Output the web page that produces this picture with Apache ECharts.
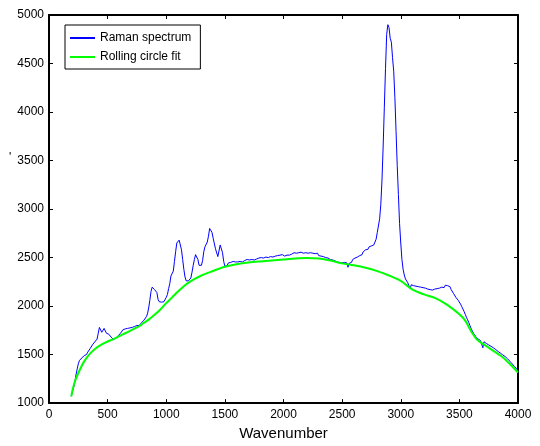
<!DOCTYPE html>
<html>
<head>
<meta charset="utf-8">
<script src="https://cdn.jsdelivr.net/npm/echarts@6/dist/echarts.min.js"></script>
<style>html,body{margin:0;padding:0;background:#fff}#c{width:540px;height:446px}</style>
</head>
<body>
<div id="c"></div>
<script>
var xTicks = [0, 500, 1000, 1500, 2000, 2500, 3000, 3500, 4000];
var yTicks = [1000, 1500, 2000, 2500, 3000, 3500, 4000, 4500, 5000];
var seriesNames = ['Raman spectrum', 'Rolling circle fit'];

var ramanSpectrum = [
[190,1070],[200,1120],[210,1160],[220,1215],[230,1290],[240,1350],[250,1405],[260,1440],[270,1450],[280,1465],
[290,1470],[300,1490],[310,1505],[320,1500],[330,1525],[340,1545],[350,1560],[360,1580],[370,1600],[380,1610],
[390,1630],[400,1630],[410,1660],[420,1720],[430,1780],[440,1760],[450,1730],[460,1745],[470,1770],[480,1765],
[490,1720],[500,1700],[510,1710],[520,1690],[530,1680],[540,1670],[550,1655],[560,1650],[570,1670],[580,1680],
[590,1695],[600,1710],[610,1720],[620,1740],[630,1755],[640,1770],[650,1765],[660,1775],[670,1770],[680,1760],
[690,1775],[700,1765],[710,1780],[720,1770],[730,1790],[740,1785],[750,1800],[760,1805],[770,1800],[780,1815],
[790,1830],[800,1845],[810,1855],[820,1870],[830,1890],[840,1920],[850,1980],[860,2060],[870,2150],[880,2195],
[890,2190],[900,2170],[910,2180],[920,2140],[930,2070],[940,2045],[950,2030],[960,2040],[970,2050],[980,2045],
[990,2060],[1000,2090],[1010,2120],[1020,2180],[1030,2230],[1040,2310],[1050,2320],[1060,2360],[1070,2460],[1080,2560],
[1090,2650],[1100,2640],[1110,2680],[1120,2660],[1130,2580],[1140,2480],[1150,2380],[1160,2300],[1170,2260],[1180,2250],
[1190,2260],[1200,2250],[1210,2290],[1220,2350],[1230,2420],[1240,2480],[1250,2530],[1260,2540],[1270,2480],[1280,2420],
[1290,2410],[1300,2420],[1310,2470],[1320,2560],[1330,2610],[1340,2630],[1350,2660],[1360,2720],[1370,2800],[1380,2810],
[1390,2760],[1400,2700],[1410,2680],[1420,2590],[1430,2570],[1440,2510],[1450,2530],[1460,2630],[1470,2610],[1480,2550],
[1490,2460],[1500,2410],[1510,2390],[1520,2420],[1530,2445],[1540,2430],[1550,2450],[1560,2440],[1570,2460],[1580,2445],
[1590,2455],[1600,2435],[1610,2455],[1620,2445],[1630,2460],[1640,2440],[1650,2455],[1660,2450],[1670,2470],[1680,2460],
[1690,2480],[1700,2470],[1710,2475],[1720,2460],[1730,2480],[1740,2490],[1750,2475],[1760,2495],[1770,2485],[1780,2480],
[1790,2495],[1800,2485],[1810,2500],[1820,2490],[1830,2495],[1840,2485],[1850,2505],[1860,2495],[1870,2500],[1880,2490],
[1890,2510],[1900,2500],[1910,2505],[1920,2495],[1930,2515],[1940,2505],[1950,2520],[1960,2510],[1970,2525],[1980,2510],
[1990,2530],[2000,2520],[2010,2515],[2020,2535],[2030,2525],[2040,2540],[2050,2525],[2060,2545],[2070,2535],[2080,2530],
[2090,2550],[2100,2540],[2110,2545],[2120,2530],[2130,2550],[2140,2540],[2150,2555],[2160,2535],[2170,2545],[2180,2530],
[2190,2550],[2200,2540],[2210,2545],[2220,2530],[2230,2550],[2240,2535],[2250,2545],[2260,2525],[2270,2540],[2280,2530],
[2290,2545],[2300,2520],[2310,2535],[2320,2515],[2330,2525],[2340,2510],[2350,2520],[2360,2500],[2370,2515],[2380,2495],
[2390,2505],[2400,2480],[2410,2495],[2420,2475],[2430,2485],[2440,2465],[2450,2470],[2460,2455],[2470,2460],[2480,2450],
[2490,2455],[2500,2445],[2510,2440],[2520,2450],[2530,2435],[2540,2445],[2550,2400],[2560,2440],[2570,2460],[2580,2450],
[2590,2480],[2600,2470],[2610,2495],[2620,2485],[2630,2505],[2640,2495],[2650,2520],[2660,2535],[2670,2530],[2680,2560],
[2690,2550],[2700,2580],[2710,2595],[2720,2585],[2730,2610],[2740,2600],[2750,2620],[2760,2615],[2770,2630],[2780,2640],
[2790,2690],[2800,2760],[2810,2780],[2820,2900],[2830,3050],[2840,3300],[2850,3650],[2860,4050],[2870,4450],[2880,4800],
[2890,4900],[2900,4870],[2910,4760],[2920,4720],[2930,4560],[2940,4420],[2950,4150],[2960,3800],[2970,3450],[2980,3150],
[2990,2850],[3000,2650],[3010,2480],[3020,2380],[3030,2320],[3040,2280],[3050,2260],[3060,2240],[3070,2230],[3080,2180],
[3090,2220],[3100,2200],[3110,2210],[3120,2190],[3130,2205],[3140,2185],[3150,2200],[3160,2180],[3170,2195],[3180,2175],
[3190,2190],[3200,2170],[3210,2185],[3220,2165],[3230,2175],[3240,2160],[3250,2170],[3260,2155],[3270,2165],[3280,2160],
[3290,2175],[3300,2165],[3310,2180],[3320,2175],[3330,2185],[3340,2180],[3350,2195],[3360,2200],[3370,2190],[3380,2215],
[3390,2195],[3400,2210],[3410,2190],[3420,2200],[3430,2170],[3440,2160],[3450,2130],[3460,2120],[3470,2090],[3480,2075],
[3490,2060],[3500,2040],[3510,2020],[3520,1995],[3530,1970],[3540,1945],[3550,1915],[3560,1885],[3570,1860],[3580,1830],
[3590,1800],[3600,1770],[3610,1745],[3620,1720],[3630,1700],[3640,1685],[3650,1675],[3660,1660],[3670,1655],[3680,1645],
[3690,1640],[3700,1570],[3710,1632],[3720,1625],[3730,1615],[3740,1610],[3750,1600],[3760,1592],[3770,1585],[3780,1578],
[3790,1570],[3800,1560],[3810,1552],[3820,1540],[3830,1532],[3840,1525],[3850,1515],[3860,1505],[3870,1497],[3880,1485],
[3890,1480],[3900,1468],[3910,1458],[3920,1445],[3930,1432],[3940,1420],[3950,1405],[3960,1393],[3970,1378],[3980,1362],
[3990,1350],[4000,1335]
];

var circleFit = [
[190,1070],[200,1130],[220,1220],[250,1310],[300,1430],[350,1510],[400,1565],[450,1605],[500,1635],[550,1660],
[600,1690],[650,1720],[700,1750],[750,1780],[780,1800],[800,1820],[850,1860],[900,1910],[950,1965],[1000,2030],
[1050,2090],[1100,2150],[1150,2205],[1200,2250],[1250,2285],[1300,2315],[1350,2340],[1400,2362],[1450,2385],[1500,2405],
[1600,2430],[1700,2448],[1800,2460],[1900,2470],[2000,2480],[2100,2490],[2200,2495],[2300,2490],[2400,2470],[2500,2440],
[2600,2420],[2700,2395],[2800,2360],[2900,2315],[3000,2260],[3100,2170],[3200,2120],[3300,2080],[3400,2010],[3500,1915],
[3550,1850],[3600,1740],[3650,1655],[3700,1610],[3750,1572],[3800,1530],[3850,1490],[3900,1440],[3950,1380],[4000,1315]
];

var font = "'Liberation Sans', Arial, Helvetica, sans-serif";
var chart = echarts.init(document.getElementById('c'), null, {renderer: 'canvas'});
var axisLine = {show: true, onZero: false, lineStyle: {color: '#000', width: 2}};
var tick = {show: true, inside: true, length: 4, lineStyle: {color: '#000', width: 1}};
var plain = function (v) { return String(v); };
chart.setOption({
  animation: false,
  backgroundColor: '#fff',
  textStyle: {fontFamily: font},
  grid: {left: 49, right: 22, top: 15, bottom: 34, containLabel: false},
  legend: {
    show: true, orient: 'vertical', left: 65, top: 25,
    data: [
      {name: seriesNames[0], icon: 'rect', itemStyle: {color: '#0000ff'}},
      {name: seriesNames[1], icon: 'rect', itemStyle: {color: '#00ff00'}}
    ],
    borderColor: '#000', borderWidth: 1, borderRadius: 0,
    padding: [6, 9, 5, 5], itemWidth: 25, itemHeight: 2, itemGap: 5, itemTextGap: 5,
    textStyle: {fontFamily: font, fontSize: 12, color: '#000', lineHeight: 14},
    backgroundColor: '#fff'
  },
  graphic: [{type: 'text', left: 9, top: 152, style: {text: "'", fontSize: 12, fontFamily: font, fill: '#000'}}],
  xAxis: [{
    type: 'value', min: xTicks[0], max: xTicks[xTicks.length - 1], interval: 500,
    name: 'Wavenumber', nameLocation: 'middle', nameGap: 17,
    nameTextStyle: {fontFamily: font, fontSize: 15, color: '#000', verticalAlign: 'top'},
    axisLine: axisLine, axisTick: tick, splitLine: {show: false},
    axisLabel: {color: '#000', fontSize: 12, fontFamily: font, margin: 6, formatter: plain}
  }, {
    type: 'value', position: 'top', min: xTicks[0], max: xTicks[xTicks.length - 1], interval: 500,
    axisLine: axisLine, axisTick: tick, splitLine: {show: false}, axisLabel: {show: false}
  }],
  yAxis: [{
    type: 'value', min: yTicks[0], max: yTicks[yTicks.length - 1], interval: 500,
    axisLine: axisLine, axisTick: tick, splitLine: {show: false},
    axisLabel: {color: '#000', fontSize: 12, fontFamily: font, margin: 5, formatter: plain}
  }, {
    type: 'value', position: 'right', min: yTicks[0], max: yTicks[yTicks.length - 1], interval: 500,
    axisLine: axisLine, axisTick: tick, splitLine: {show: false}, axisLabel: {show: false}
  }],
  series: [{
    name: seriesNames[0], type: 'line', data: ramanSpectrum, symbol: 'none',
    lineStyle: {color: '#0000ff', width: 1}, itemStyle: {color: '#0000ff'}
  }, {
    name: seriesNames[1], type: 'line', data: circleFit, symbol: 'none', smooth: 0.3,
    lineStyle: {color: '#00ff00', width: 2}, itemStyle: {color: '#00ff00'}
  }]
});
</script>
</body>
</html>
